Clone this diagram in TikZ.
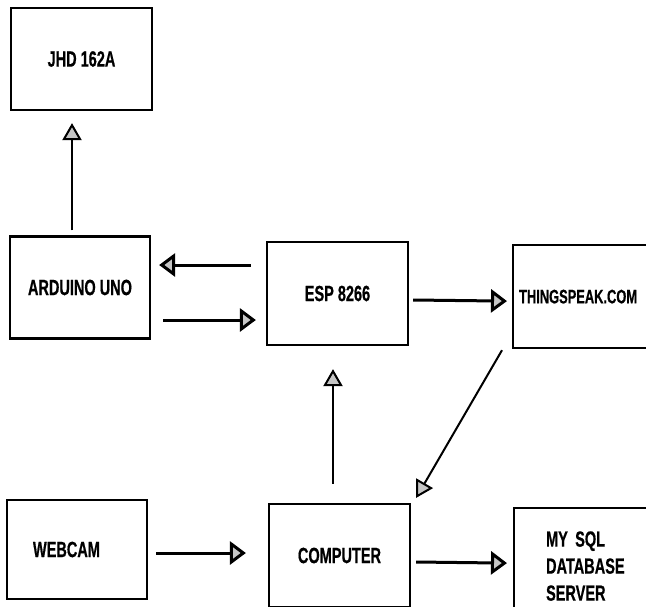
\documentclass[tikz,border=0pt]{standalone}
\usepackage{fontspec}
\setmainfont{Liberation Sans}[FakeStretch=0.66, BoldFeatures={FakeBold=0.6}]
\usetikzlibrary{arrows.meta}
\begin{document}
\begin{tikzpicture}[x=1pt, y=-1pt,
    box/.style={draw, line width=2.2pt, minimum width=141pt, minimum height=102pt, inner sep=0pt, font=\bfseries\fontsize{22}{27}\selectfont},
    sidebox/.style={box, anchor=north west, align=left, minimum height=103pt},
    arr/.style={line width=3pt, -{Triangle[length=16pt, width=23pt, fill=gray!45]}},
    thin arr/.style={line width=2pt, -{Triangle[length=17pt, width=19pt, fill=gray!45]}}]
    \useasboundingbox (0,0) rectangle (646,606);
    \clip (0,0) rectangle (646,606);
    \node[box] (lcd) at (81.5,59) {JHD 162A};
    \node[box, minimum width=140pt] (uno) at (80,287.5) {ARDUINO UNO};
    \node[box, minimum height=103pt] (esp) at (337.5,293.5) {ESP 8266};
    \node[sidebox, inner xsep=6pt, text width=140pt, font=\bfseries\fontsize{19.5}{27}\selectfont] (cloud) at (512,244) {THINGSPEAK.COM};
    \node[box, minimum width=140pt, minimum height=99pt, align=left, text width=88pt, inner xsep=26pt] (cam) at (77,549.5) {WEBCAM};
    \node[box, minimum height=103pt] (pc) at (339.5,555.5) {COMPUTER};
    \node[sidebox, inner xsep=32pt, text width=90pt, minimum height=116pt] (sql) at (513,507) {MY SQL\\DATABASE\\SERVER};
    \draw[thin arr] ([xshift=-8pt, yshift=5pt]uno.north) -- ([xshift=-9.5pt, yshift=-12pt]lcd.south);
    \draw[arr] ([xshift=-15pt, yshift=28.5pt]esp.west) -- ([xshift=8pt, yshift=22.5pt]uno.east);
    \draw[arr] ([xshift=12pt, yshift=-32.5pt]uno.east) -- ([xshift=-10pt, yshift=-26.5pt]esp.west);
    \draw[arr] ([xshift=4pt, yshift=-6.5pt]esp.east) -- ([xshift=-5pt, yshift=-4.5pt]cloud.west);
    \draw[thin arr] ([xshift=-10pt, yshift=-1pt]cloud.south west) -- ([xshift=5pt, yshift=5pt]pc.north east);
    \draw[thin arr] ([xshift=-6.5pt, yshift=19pt]pc.north) -- ([xshift=-4.5pt, yshift=-23pt]esp.south);
    \draw[arr] ([xshift=8pt, yshift=-3.5pt]cam.east) -- ([xshift=-22pt, yshift=2.5pt]pc.west);
    \draw[arr] ([xshift=5pt, yshift=-6.5pt]pc.east) -- ([xshift=-6pt, yshift=3pt]sql.west);
\end{tikzpicture}
\end{document}
